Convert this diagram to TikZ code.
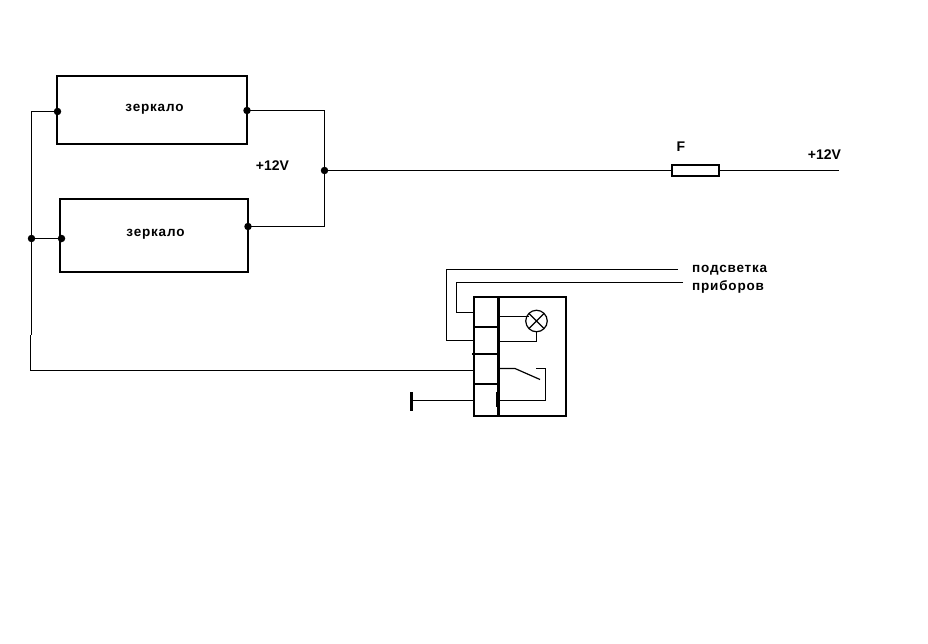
\documentclass[tikz,border=0pt]{standalone}
\usepackage{fontspec}
\setmainfont{Liberation Sans}
\newfontfamily\spaced[LetterSpace=6]{Liberation Sans}
\tikzset{
 wire/.style={draw=black,line width=1.2pt},
 heavy/.style={draw=black,line width=2.4pt},
 block/.style={draw=black,line width=2.4pt,fill=white,inner sep=0pt,anchor=north west},
 junction/.style={circle,fill=black,inner sep=0pt,minimum size=7.5pt},
 lbl/.style={inner sep=0pt,font=\fontsize{13.5}{15}\selectfont\bfseries\spaced},
 volt/.style={inner sep=0pt,font=\fontsize{14}{16}\selectfont\bfseries}
}
\begin{document}
\begin{tikzpicture}[x=1pt,y=-1pt]
\useasboundingbox (0,0) rectangle (928,643);
% mirrors
\node[block,minimum width=190pt,minimum height=68.5pt] (m1) at (55.5,74.5) {};
\node[block,minimum width=188pt,minimum height=73pt] (m2) at (58.5,197.5) {};
\node[lbl] (t1) at (154.5,109) {зеркало};
\node[lbl] (t2) at (155.5,234) {зеркало};
\node[volt] (v1) at (272.5,166) {+12V};
% junctions
\node[junction] (j1) at (57.5,111.5) {};
\node[junction] (j2) at (247,110.5) {};
\node[junction] (j3) at (248,226.5) {};
\node[junction] (j4) at (324.5,170.5) {};
\node[junction] (j5) at (31.5,238.5) {};
\node[junction] (j6) at (61.5,238.5) {};
\coordinate (c1) at (31.5,111.5);
\coordinate (c2) at (324.5,110.5);
\coordinate (c3) at (324.5,226.5);
\coordinate (c4) at (31.5,335);
\coordinate (c5) at (30.5,335);
\coordinate (c6) at (30.5,370.5);
\coordinate (c7) at (473.5,370.5);
\draw[wire] (j1.center) -- (c1) -- (c4);
\draw[wire] (c5) -- (c6) -- (c7);
\draw[wire] (j5.center) -- (j6.center);
\draw[wire] (j2.center) -- (c2) -- (c3) -- (j3.center);
% fuse and feed
\node[draw=black,line width=1.9pt,fill=white,minimum width=47pt,minimum height=10.5pt,inner sep=0pt] (fuse) at (695.5,170.5) {};
\coordinate (feed) at (839,170.5);
\draw[wire] (j4.center) -- (j4.center -| fuse.west);
\draw[wire] (fuse.east) -- (feed);
\node[volt] (fl) at (681,146.5) {F};
\node[volt] (v2) at (824.5,155) {+12V};
% relay box
\node[block,minimum width=92.5pt,minimum height=119pt] (box) at (472.5,295.5) {};
\coordinate (vt) at (498.5,296);
\coordinate (vb) at (498.5,416);
\draw[heavy] (vt) -- (vb);
\coordinate (d1a) at (473.5,327); \coordinate (d1b) at (498.5,327);
\coordinate (d2a) at (472,354); \coordinate (d2b) at (498.5,354);
\coordinate (d3a) at (473.5,384); \coordinate (d3b) at (498.5,384);
\draw[heavy] (d1a) -- (d1b);
\draw[heavy] (d2a) -- (d2b);
\draw[heavy] (d3a) -- (d3b);
% backlight wires
\coordinate (a1) at (678,269.5); \coordinate (a2) at (446.5,269.5); \coordinate (a3) at (446.5,340.5); \coordinate (a4) at (473.5,340.5);
\coordinate (b1) at (683,282.5); \coordinate (b2) at (456.5,282.5); \coordinate (b3) at (456.5,312.5); \coordinate (b4) at (473.5,312.5);
\draw[wire] (a1) -- (a2) -- (a3) -- (a4);
\draw[wire] (b1) -- (b2) -- (b3) -- (b4);
\node[lbl,anchor=west] (t3) at (692,270) {подсветка};
\node[lbl,anchor=west] (t4) at (692,287) {приборов};
% lamp
\node[draw=black,circle,line width=1.2pt,minimum size=21.5pt,inner sep=0pt,path picture={
 \draw[line width=1.2pt] (path picture bounding box.north west) -- (path picture bounding box.south east)
 (path picture bounding box.north east) -- (path picture bounding box.south west);}] (lamp) at (536.5,321) {};
\coordinate (l1) at (498.5,316.5); \coordinate (l2) at (529,316.5);
\coordinate (l3) at (498.5,341.5); \coordinate (l4) at (536.5,341.5); \coordinate (l5) at (536.5,331);
\draw[wire] (l1) -- (l2);
\draw[wire] (l3) -- (l4) -- (l5);
% switch
\coordinate (s1) at (498.5,368.5); \coordinate (s2) at (515,368.5); \coordinate (s3) at (540,379.5);
\coordinate (s4) at (536,368.5); \coordinate (s5) at (545.5,368.5); \coordinate (s6) at (545.5,400.5); \coordinate (s7) at (498,400.5);
\draw[wire] (s1) -- (s2) -- (s3);
\draw[wire] (s4) -- (s5) -- (s6) -- (s7);
\coordinate (s8) at (497.5,392); \coordinate (s9) at (497.5,407);
\draw[heavy] (s8) -- (s9);
% ground
\coordinate (g1) at (473.5,400.5); \coordinate (g2) at (411.5,400.5);
\coordinate (g3) at (411.5,392); \coordinate (g4) at (411.5,410.5);
\draw[wire] (g1) -- (g2);
\draw[draw=black,line width=3pt] (g3) -- (g4);
\end{tikzpicture}
\end{document}
